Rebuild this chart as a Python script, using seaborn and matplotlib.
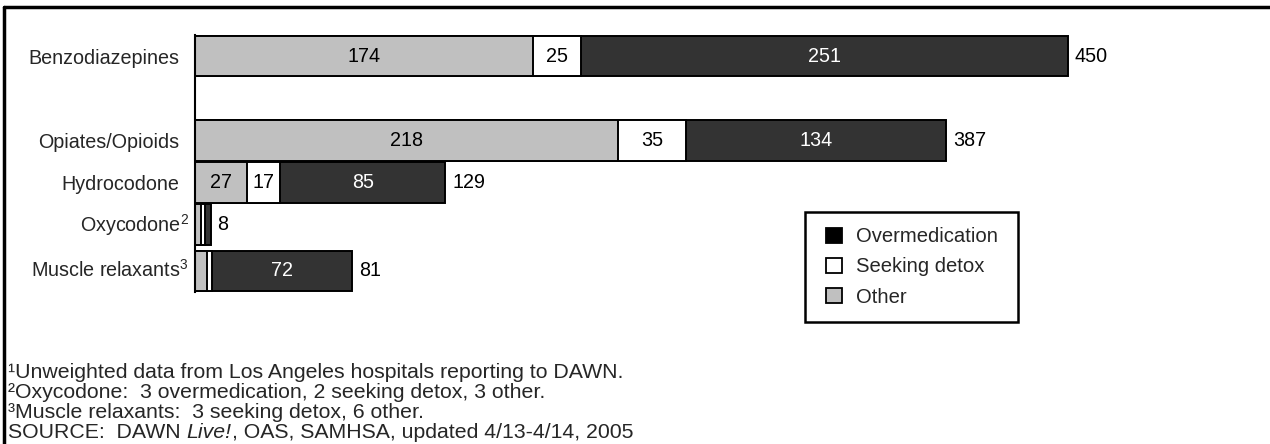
import matplotlib
matplotlib.use('Agg')
import numpy as np
import pandas as pd
import matplotlib.pyplot as plt
from matplotlib.patches import Patch, Rectangle
from matplotlib.lines import Line2D
from matplotlib.transforms import ScaledTranslation
import seaborn as sns

# Data
drugs = ['Benzodiazepines', 'Opiates/Opioids', 'Hydrocodone', 'Oxycodone', 'Muscle relaxants']
label_notes = ['', '', '', '2', '3']
other = [174, 218, 27, 3, 6]
seeking_detox = [25, 35, 17, 2, 3]
overmedication = [251, 134, 85, 3, 72]
totals = [450, 387, 129, 8, 81]

footnotes = [
    '\u00b9Unweighted data from Los Angeles hospitals reporting to DAWN.',
    '\u00b2Oxycodone:  3 overmedication, 2 seeking detox, 3 other.',
    '\u00b3Muscle relaxants:  3 seeking detox, 6 other.',
]
source_parts = ['SOURCE:  DAWN ', 'Live!', ', OAS, SAMHSA, updated 4/13-4/14, 2005']

sns.set_style('white')
plt.rcParams['font.family'] = ['Liberation Sans', 'DejaVu Sans']
plt.rcParams['mathtext.fontset'] = 'custom'
plt.rcParams['mathtext.rm'] = 'Liberation Sans'
plt.rcParams['mathtext.it'] = 'Liberation Sans:italic'
plt.rcParams['mathtext.default'] = 'rm'

GRAY = '#c0c0c0'
DARK = '#333333'
FS = 14.2
FS_NOTE = 15.3

df = pd.DataFrame({
    'drug': drugs,
    'pos': [0, 2, 3, 4, 5.1],
    'other': other,
    'detox': seeking_detox,
    'over': overmedication,
})
df['cum_detox'] = df['other'] + df['detox']
df['cum_over'] = df['cum_detox'] + df['over']

fig = plt.figure(figsize=(12.7, 4.44), dpi=100)
ax = fig.add_axes([195 / 1270, 1 - 292 / 444, 1067 / 1270, 257 / 444])

# stacked by overdrawing cumulative lengths
for col, colr in [('cum_over', DARK), ('cum_detox', 'white'), ('other', GRAY)]:
    sns.barplot(data=df, x=col, y='pos', orient='h', native_scale=True, color=colr,
                edgecolor='black', linewidth=1.4, width=0.97, saturation=1, ax=ax)

ax.set_xlim(0, 550)
ax.set_ylim(5.1 + 0.5, -0.5)
ax.set_yticks(df['pos'])
ticklabels = [d + (f'$^{{{n}}}$' if n else '') for d, n in zip(drugs, label_notes)]
ax.set_yticklabels(ticklabels, fontsize=FS)
ax.tick_params(axis='y', length=0, pad=11)
for tick, n in zip(ax.yaxis.get_major_ticks(), label_notes):
    if n:
        tick.set_pad(4.5)
        lbl = tick.label1
        lbl.set_transform(lbl.get_transform() + ScaledTranslation(0, 2 / 72, fig.dpi_scale_trans))
ax.set_xticks([])
ax.set_xlabel('')
ax.set_ylabel('')
for s in ['top', 'right', 'bottom']:
    ax.spines[s].set_visible(False)
ax.spines['left'].set_color('black')
ax.spines['left'].set_linewidth(1.5)

# segment labels
for _, r in df.iterrows():
    segs = [(0, r['other'], 'black'), (r['other'], r['detox'], 'black'), (r['cum_detox'], r['over'], 'white')]
    for start, val, tc in segs:
        if val >= 10:
            ax.text(start + val / 2, r['pos'], f'{int(val)}', ha='center', va='center',
                    fontsize=FS, color=tc)
    ax.annotate(f"{int(r['cum_over'])}", (r['cum_over'], r['pos']), xytext=(5, 0),
                textcoords='offset points', ha='left', va='center', fontsize=FS, color='black')

# legend: entries without frame, frame drawn separately
handles = [Patch(facecolor='black', edgecolor='black', label='Overmedication'),
           Patch(facecolor='white', edgecolor='black', label='Seeking detox'),
           Patch(facecolor=GRAY, edgecolor='black', label='Other')]
leg = fig.legend(handles=handles, loc='center left', bbox_to_anchor=(826 / 1270, 1 - 267 / 444),
                 fontsize=14.6, frameon=False, handlelength=0.8, handleheight=0.8,
                 handletextpad=0.7, borderpad=0, labelspacing=0.55, borderaxespad=0)
for h in leg.legend_handles:
    h.set_linewidth(1.3)
fig.add_artist(Rectangle((805 / 1270, 1 - 322 / 444), 213 / 1270, 110 / 444,
                         transform=fig.transFigure, facecolor='none', edgecolor='black', lw=1.8))

# footnotes
for i, t in enumerate(footnotes):
    fig.text(8 / 1270, 1 - (372 + i * 20.3) / 444, t, ha='left', va='center', fontsize=FS_NOTE)
prev = fig.text(8 / 1270, 1 - (372 + 3 * 20.3) / 444, source_parts[0], ha='left', va='center',
                fontsize=FS_NOTE)
for k, part in enumerate(source_parts[1:]):
    prev = ax.annotate(part, xy=(1, 0), xycoords=prev, ha='left', va='bottom', fontsize=FS_NOTE,
                       style='italic' if k == 0 else 'normal', annotation_clip=False)

# outer frame (top and left)
fig.add_artist(Line2D([4 / 1270, 1], [1 - 7 / 444, 1 - 7 / 444], color='black', lw=2.5))
fig.add_artist(Line2D([4 / 1270, 4 / 1270], [0, 1 - 7 / 444], color='black', lw=2.5))

fig.savefig('out.png', dpi=100)
